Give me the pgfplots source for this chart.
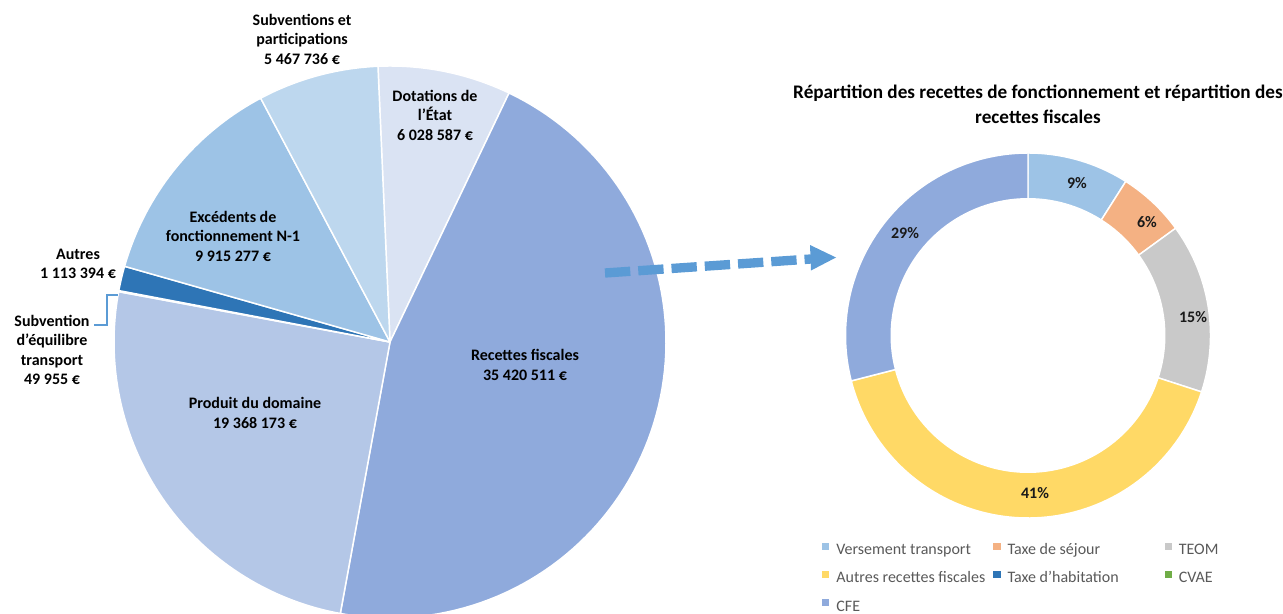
\documentclass[border=0pt]{standalone}
\usepackage{pgfplots}
\pgfplotsset{compat=1.18}
\usepackage{fontspec}
\setmainfont{Carlito}

\definecolor{cDot}{HTML}{DAE3F3}
\definecolor{cRec}{HTML}{8FAADC}
\definecolor{cPro}{HTML}{B4C7E7}
\definecolor{cSeq}{HTML}{5B9BD5}
\definecolor{cAut}{HTML}{2E75B6}
\definecolor{cExc}{HTML}{9DC3E6}
\definecolor{cSub}{HTML}{BDD7EE}
\definecolor{dVT}{HTML}{9DC3E6}
\definecolor{dTS}{HTML}{F4B183}
\definecolor{dTE}{HTML}{C9C9C9}
\definecolor{dAR}{HTML}{FFD966}
\definecolor{dTH}{HTML}{2E75B6}
\definecolor{dCV}{HTML}{70AD47}
\definecolor{dCF}{HTML}{8FAADC}
\definecolor{arrowblue}{HTML}{5B9BD5}
\definecolor{legtext}{HTML}{595959}
\definecolor{lbltext}{HTML}{1A1A1A}

% Left pie: values in millions of euros
\def\vDot{6.028587}   % Dotations de l'Etat
\def\vRec{35.420511}  % Recettes fiscales
\def\vPro{19.368173}  % Produit du domaine
\def\vSeq{0.049955}   % Subvention d'equilibre transport
\def\vAut{1.113394}   % Autres
\def\vExc{9.915277}   % Excedents de fonctionnement N-1
\def\vSub{5.467736}   % Subventions et participations
\pgfmathsetmacro\T{\vDot+\vRec+\vPro+\vSeq+\vAut+\vExc+\vSub}
\pgfmathsetmacro\aA{-2.5}
\pgfmathsetmacro\aB{\aA+360*\vDot/\T}
\pgfmathsetmacro\aC{\aB+360*\vRec/\T}
\pgfmathsetmacro\aD{\aC+360*\vPro/\T}
\pgfmathsetmacro\aE{\aD+360*\vSeq/\T}
\pgfmathsetmacro\aF{\aE+360*\vAut/\T}
\pgfmathsetmacro\aG{\aF+360*\vExc/\T}
\pgfmathsetmacro\aH{\aG+360*\vSub/\T}

% Donut: percentages
\def\dVT{9}\def\dTS{6}\def\dTE{15}\def\dAR{41}\def\dTH{0}\def\dCV{0}\def\dCF{29}
\pgfmathsetmacro\bA{0}
\pgfmathsetmacro\bB{\bA+3.6*\dVT}
\pgfmathsetmacro\bC{\bB+3.6*\dTS}
\pgfmathsetmacro\bD{\bC+3.6*\dTE}
\pgfmathsetmacro\bE{\bD+3.6*\dAR}
\pgfmathsetmacro\bF{\bE+3.6*(\dTH+\dCV)}
\pgfmathsetmacro\bG{\bF+3.6*\dCF}

% sector: cx, cy, r, start, end, colour
\newcommand\sector[6]{%
  \addplot[forget plot, fill=#6, draw=white, line width=1.1pt, line join=round,
    domain=#4:#5, samples=90, variable=\t]
    ({#1+#3*sin(\t)},{#2-#3*cos(\t)}) -- (axis cs:#1,#2) -- cycle;}

\newcommand\lf{\bfseries\fontsize{12}{14.6}\selectfont}
\newcommand\dl{\bfseries\fontsize{12}{13}\selectfont}
\newcommand\rl{\rule[-6.5pt]{0pt}{21pt}}
\newcommand\legent[1]{\hspace{5.6pt}\makebox[117.8pt][l]{#1\rl}}

\pgfplotsset{sq/.style={legend image code/.code={\fill[#1] (0pt,-2.3pt) rectangle (4.6pt,2.3pt);}}}

\begin{document}
\begin{tikzpicture}
\begin{axis}[
  width=962.25pt, height=460.5pt, scale only axis,
  xmin=0, xmax=1283, ymin=0, ymax=614, y dir=reverse,
  axis lines=none, ticks=none, clip=true,
  legend columns=3,
  legend cell align=left,
  legend style={at={(axis cs:822,535)}, anchor=north west, draw=none, fill=none,
    inner sep=0pt, column sep=0pt, row sep=5.2pt,
    nodes={inner sep=0pt}, font=\fontsize{12}{13}\selectfont, text=legtext},
]
% ---- left pie
\sector{390}{342}{276}{\aA}{\aB}{cDot}
\sector{390}{342}{276}{\aB}{\aC}{cRec}
\sector{390}{342}{276}{\aC}{\aD}{cPro}
\sector{390}{342}{276}{\aD}{\aE}{cSeq}
\sector{390}{342}{276}{\aE}{\aF}{cAut}
\sector{390}{342}{276}{\aF}{\aG}{cExc}
\sector{390}{342}{276}{\aG}{\aH}{cSub}
% ---- donut
\sector{1028}{335.5}{182.5}{\bA}{\bB}{dVT}
\sector{1028}{335.5}{182.5}{\bB}{\bC}{dTS}
\sector{1028}{335.5}{182.5}{\bC}{\bD}{dTE}
\sector{1028}{335.5}{182.5}{\bD}{\bE}{dAR}
\sector{1028}{335.5}{182.5}{\bF}{\bG}{dCF}
\addplot[forget plot, fill=white, draw=none, domain=0:360, samples=160, variable=\t]
  ({1028+137.5*sin(\t)},{335.5-137.5*cos(\t)}) -- cycle;

% ---- legend
\addlegendimage{sq=dVT}\addlegendentry{\legent{Versement transport}}
\addlegendimage{sq=dTS}\addlegendentry{\legent{Taxe de séjour}}
\addlegendimage{sq=dTE}\addlegendentry{\legent{TEOM}}
\addlegendimage{sq=dAR}\addlegendentry{\legent{Autres recettes fiscales}}
\addlegendimage{sq=dTH}\addlegendentry{\legent{Taxe d’habitation}}
\addlegendimage{sq=dCV}\addlegendentry{\legent{CVAE}}
\addlegendimage{sq=dCF}\addlegendentry{\legent{CFE}}

% ---- pie labels
\node[align=center, font=\lf, text=black] at (axis cs:302,39) {Subventions et\\participations\\5~467~736~€};
\node[align=center, font=\lf, text=black] at (axis cs:435,115) {Dotations de\\l’État\\6~028~587~€};
\node[align=center, font=\lf, text=black] at (axis cs:233,236) {Excédents de\\fonctionnement N-1\\9~915~277~€};
\node[align=center, font=\lf, text=black] at (axis cs:78,264) {Autres\\1~113~394~€};
\node[align=center, font=\lf, text=black] at (axis cs:52,350) {Subvention\\d’équilibre\\transport\\49~955~€};
\node[align=center, font=\lf, text=black] at (axis cs:255,413) {Produit du domaine\\19~368~173~€};
\node[align=center, font=\lf, text=black] at (axis cs:525,365) {Recettes fiscales\\35~420~511~€};
\draw[cSeq, line width=0.8pt] (axis cs:94,325) -- (axis cs:107,325) -- (axis cs:107,295) -- (axis cs:118,295);

% ---- donut labels
\node[font=\dl, text=lbltext] at (axis cs:1077,183) {9\%};
\node[font=\dl, text=lbltext] at (axis cs:1147,222) {6\%};
\node[font=\dl, text=lbltext] at (axis cs:1193,317) {15\%};
\node[font=\dl, text=lbltext] at (axis cs:905,233) {29\%};
\node[font=\dl, text=lbltext] at (axis cs:1035,493) {41\%};

% ---- title
\node[align=center, font=\bfseries\fontsize{14.4}{18.75}\selectfont, text=black] at (axis cs:1038,104)
  {Répartition des recettes de fonctionnement et répartition des\\recettes fiscales};

% ---- arrow
\draw[arrowblue, line width=7pt, dash pattern=on 19pt off 6pt] (axis cs:605,273) -- (axis cs:811,259);
\fill[arrowblue] (axis cs:810,245) -- (axis cs:836,257.5) -- (axis cs:811,270.5) -- cycle;
\end{axis}
\pgfresetboundingbox
\path (current axis.south west) rectangle (current axis.north east);
\end{tikzpicture}
\end{document}
